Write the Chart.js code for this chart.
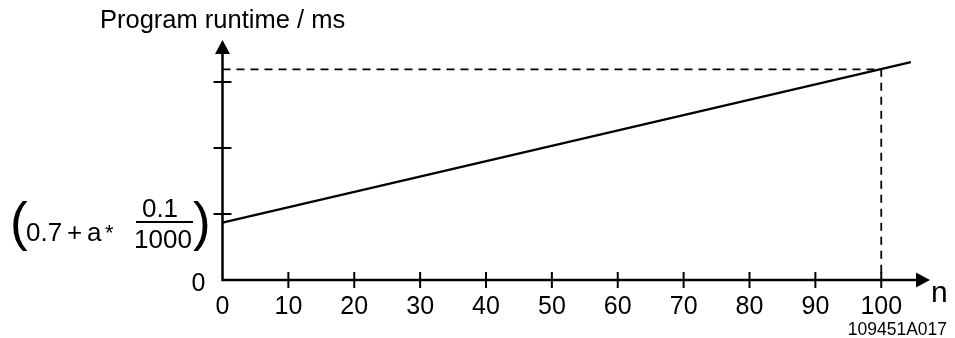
<!DOCTYPE html>
<html>
<head>
<meta charset="utf-8">
<script src="https://cdn.jsdelivr.net/npm/chart.js@4.4.1/dist/chart.umd.min.js"></script>
<style>
  html, body { margin: 0; padding: 0; background: #fff; }
  #wrap { width: 955px; height: 338px; }
</style>
</head>
<body>
<div id="wrap"><canvas id="runtimeChart" width="955" height="338"></canvas></div>
<script>
// values (y in tick units, tick 1..3 unlabeled)
const lineN = [0, 104.5];
const lineRuntime = [0.87, 3.30];
const markN = 100;
const markRuntime = 3.19;
const xTicks = [0, 10, 20, 30, 40, 50, 60, 70, 80, 90, 100];
const yTicks = [1, 2, 3];
const xMax = 107.4;
const yMax = 3.636;

const FONT = '"Liberation Sans", Arial, Helvetica, sans-serif';

// axes with arrows, cross ticks, labels and the formula
const axesPlugin = {
    id: 'axesPlugin',
    afterDraw(chart) {
        const ctx = chart.ctx;
        const xs = chart.scales.x;
        const ys = chart.scales.y;
        const x0 = xs.getPixelForValue(0);
        const y0 = ys.getPixelForValue(0);
        const xEnd = xs.getPixelForValue(xMax);
        const yEnd = ys.getPixelForValue(yMax);

        ctx.save();
        ctx.strokeStyle = '#000';
        ctx.fillStyle = '#000';
        ctx.lineWidth = 2.5;

        // axis lines
        ctx.beginPath();
        ctx.moveTo(x0, yEnd + 13);
        ctx.lineTo(x0, y0);
        ctx.lineTo(xEnd - 13, y0);
        ctx.stroke();

        // arrow heads
        ctx.beginPath();
        ctx.moveTo(x0, yEnd);
        ctx.lineTo(x0 - 7.5, yEnd + 14);
        ctx.lineTo(x0 + 7.5, yEnd + 14);
        ctx.closePath();
        ctx.fill();
        ctx.beginPath();
        ctx.moveTo(xEnd, y0);
        ctx.lineTo(xEnd - 14, y0 - 7.5);
        ctx.lineTo(xEnd - 14, y0 + 7.5);
        ctx.closePath();
        ctx.fill();

        // ticks
        ctx.lineWidth = 2;
        ctx.beginPath();
        xTicks.slice(1).forEach(v => {
            const px = xs.getPixelForValue(v);
            ctx.moveTo(px, y0 - 8);
            ctx.lineTo(px, y0 + 8);
        });
        yTicks.forEach(v => {
            const py = ys.getPixelForValue(v);
            ctx.moveTo(x0 - 9, py);
            ctx.lineTo(x0 + 9, py);
        });
        ctx.stroke();

        // tick labels
        ctx.font = '25px ' + FONT;
        ctx.textAlign = 'center';
        ctx.textBaseline = 'alphabetic';
        xTicks.forEach(v => {
            ctx.fillText(String(v), xs.getPixelForValue(v), y0 + 34);
        });
        ctx.fillText('0', x0 - 24, y0 + 11);

        // axis names
        ctx.textAlign = 'left';
        ctx.font = '25.5px ' + FONT;
        ctx.fillText('Program runtime / ms', 100, 28);
        ctx.font = '30px ' + FONT;
        ctx.fillText('n', xEnd + 1, y0 + 22);
        ctx.font = '17.5px ' + FONT;
        ctx.textAlign = 'right';
        ctx.fillText('109451A017', 947, 335);

        // formula next to the first y tick
        ctx.textAlign = 'left';
        ctx.font = '53px ' + FONT;
        ctx.fillText('(', 10, 240);
        ctx.fillText(')', 193, 240);
        ctx.font = '26px ' + FONT;
        ctx.fillText('0.7', 26, 241);
        ctx.fillText('+', 67, 241);
        ctx.fillText('a', 87, 241);
        ctx.font = '22px ' + FONT;
        ctx.fillText('*', 105, 240);
        ctx.font = '26px ' + FONT;
        ctx.textAlign = 'center';
        ctx.fillText('0.1', 160, 217);
        ctx.fillText('1000', 163, 248);
        ctx.lineWidth = 2;
        ctx.beginPath();
        ctx.moveTo(136, 222);
        ctx.lineTo(193, 222);
        ctx.stroke();
        ctx.restore();
    }
};

new Chart(document.getElementById('runtimeChart').getContext('2d'), {
    type: 'line',
    data: {
        datasets: [
            {
                label: 'runtime',
                data: lineN.map((n, i) => ({ x: n, y: lineRuntime[i] })),
                borderColor: '#000',
                borderWidth: 2.2,
                pointRadius: 0,
                tension: 0
            },
            {
                label: 'mark',
                data: [
                    { x: 0, y: markRuntime },
                    { x: markN, y: markRuntime },
                    { x: markN, y: 0 }
                ],
                borderColor: '#000',
                borderWidth: 1.8,
                borderDash: [8, 6],
                pointRadius: 0,
                tension: 0
            }
        ]
    },
    options: {
        responsive: false,
        animation: false,
        layout: { padding: { left: 222.5, right: 25, top: 40, bottom: 58 } },
        plugins: {
            legend: { display: false },
            tooltip: { enabled: false }
        },
        scales: {
            x: { type: 'linear', min: 0, max: xMax, display: false },
            y: { type: 'linear', min: 0, max: yMax, display: false }
        }
    },
    plugins: [axesPlugin]
});
</script>
</body>
</html>
